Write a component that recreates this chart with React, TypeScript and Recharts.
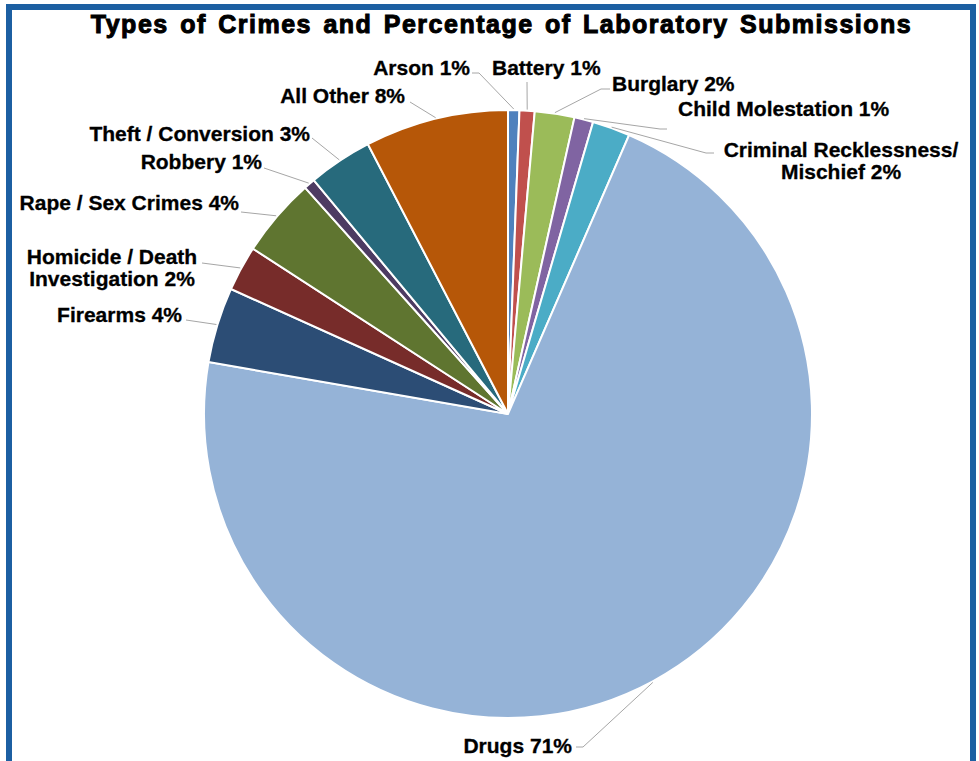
import { PieChart, Pie, Cell } from "recharts";

const categories = [
  "Arson",
  "Battery",
  "Burglary",
  "Child Molestation",
  "Criminal Recklessness/\nMischief",
  "Drugs",
  "Firearms",
  "Homicide / Death\nInvestigation",
  "Rape / Sex Crimes",
  "Robbery",
  "Theft / Conversion",
  "All Other",
];
const shares = [0.6, 0.8, 2.1, 1.0, 2.0, 71.0, 4.0, 2.4, 4.2, 0.6, 3.4, 7.6];
const colors = [
  "#4F81BD",
  "#C0504D",
  "#9BBB59",
  "#8064A2",
  "#4BACC6",
  "#95B3D7",
  "#2C4D75",
  "#772C2A",
  "#5F7530",
  "#4D3B62",
  "#276A7C",
  "#B65708",
];

// where each data label sits and the leader-line points next to it
const labelLayout: {
  x: number;
  y: number;
  anchor: "start" | "middle" | "end";
  line: number[][];
}[] = [
  { x: 470, y: 75, anchor: "end", line: [[479, 73], [472, 73]] },
  { x: 492, y: 75, anchor: "start", line: [[527, 82]] },
  { x: 612, y: 91, anchor: "start", line: [[601, 89], [610, 89]] },
  { x: 678, y: 116, anchor: "start", line: [[660, 129], [667, 129]] },
  { x: 841, y: 157, anchor: "middle", line: [[706, 153], [714, 153]] },
  { x: 572, y: 753, anchor: "end", line: [[583, 747], [576, 747]] },
  { x: 182, y: 322, anchor: "end", line: [[186, 320]] },
  { x: 112, y: 264, anchor: "middle", line: [[202, 263]] },
  { x: 239, y: 210, anchor: "end", line: [[241, 212]] },
  { x: 262, y: 169, anchor: "end", line: [[264, 168]] },
  { x: 310, y: 141, anchor: "end", line: [[312, 138]] },
  { x: 405, y: 103, anchor: "end", line: [[410, 102]] },
];

const data = categories.map((name, i) => ({ name, value: shares[i] }));

const FONT = '"Liberation Sans", Arial, sans-serif';
const RAD = Math.PI / 180;

function renderLabel(props: any) {
  const { cx, cy, midAngle, outerRadius, index, percent } = props;
  const lay = labelLayout[index];
  const ex = cx + (outerRadius + 1) * Math.cos(-midAngle * RAD);
  const ey = cy + (outerRadius + 1) * Math.sin(-midAngle * RAD);
  const pts = [[ex, ey], ...lay.line];
  const lines = categories[index].split("\n");
  lines[lines.length - 1] += ` ${Math.round(percent * 100)}%`;

  return (
    <g key={`label-${index}`}>
      <polyline
        points={pts.map((p) => p.join(",")).join(" ")}
        fill="none"
        stroke="#A6A6A6"
        strokeWidth={1}
      />
      <text
        x={lay.x}
        y={lay.y}
        textAnchor={lay.anchor}
        fontFamily={FONT}
        fontWeight="bold"
        fontSize={21}
        fill="#000"
        stroke="#000"
        strokeWidth={0.3}
      >
        {lines.map((t, i) => (
          <tspan key={i} x={lay.x} dy={i === 0 ? 0 : 22}>
            {t}
          </tspan>
        ))}
      </text>
    </g>
  );
}

export default function App() {
  return (
    <div
      style={{
        position: "absolute",
        left: 0,
        top: 0,
        width: 979,
        height: 761,
        background: "#fff",
        overflow: "hidden",
      }}
    >
      <div
        style={{
          position: "absolute",
          left: 6,
          top: 4,
          width: 958,
          height: 800,
          border: "6px solid #1C5FA2",
        }}
      />
      <div
        style={{
          position: "absolute",
          left: 0,
          top: 12,
          width: 1003,
          textAlign: "center",
          fontFamily: FONT,
          fontWeight: "bold",
          fontSize: 25,
          lineHeight: "25px",
          letterSpacing: 1.5,
          wordSpacing: 3,
          WebkitTextStroke: "1px #000",
          color: "#000",
          whiteSpace: "nowrap",
        }}
      >
        Types of Crimes and Percentage of Laboratory Submissions
      </div>
      <div style={{ position: "absolute", left: 0, top: 0 }}>
        <PieChart
          width={979}
          height={761}
          margin={{ top: 0, right: 0, bottom: 0, left: 0 }}
        >
          <Pie
            data={data}
            dataKey="value"
            nameKey="name"
            cx={508}
            cy={414}
            outerRadius={304}
            startAngle={90}
            endAngle={-270}
            stroke="#fff"
            strokeWidth={2}
            label={renderLabel}
            labelLine={false}
            isAnimationActive={false}
          >
            {data.map((d, i) => (
              <Cell key={d.name} fill={colors[i]} />
            ))}
          </Pie>
        </PieChart>
      </div>
    </div>
  );
}
